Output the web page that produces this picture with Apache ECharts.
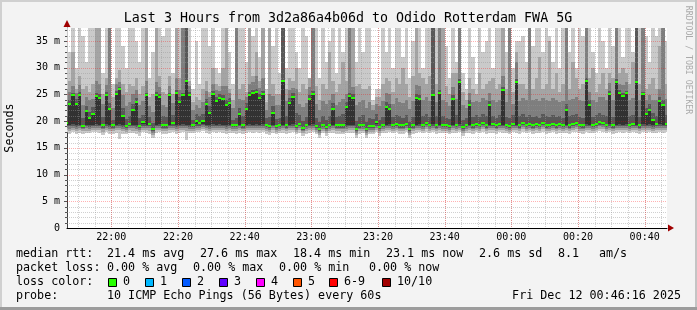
<!DOCTYPE html>
<html><head><meta charset="utf-8">
<script src="https://cdn.jsdelivr.net/npm/echarts@6/dist/echarts.min.js"></script>
<style>html,body{margin:0;padding:0;background:#f3f3f3}#c{width:697px;height:310px}</style>
</head><body><div id="c"></div><script>
// time in minutes after 21:00 (Dec 11); column i covers [46+i, 47+i]
const xStart = 46.7, xEnd = 226.7, colStart = 46;
const xLabelValues = [60, 80, 100, 120, 140, 160, 180, 200, 220];
const xLabels = ['22:00', '22:20', '22:40', '23:00', '23:20', '23:40', '00:00', '00:20', '00:40'];
const xMinorGrid = [50,55,60,65,70,75,80,85,90,95,100,105,110,115,120,125,130,135,140,145,150,155,160,165,170,175,180,185,190,195,200,205,210,215,220,225];
const xMajorGrid = [60, 80, 100, 120, 140, 160, 180, 200, 220];
const yMax = 37.43;
const yMajor = [5, 10, 15, 20, 25, 30, 35];
const yMinor = [1,2,3,4,6,7,8,9,11,12,13,14,16,17,18,19,21,22,23,24,26,27,28,29,31,32,33,34,36,37];

const median = [19.7,23.2,24.9,23.3,24.9,19.1,21.9,20.6,21.3,24.7, 24.4,19.2,24.9,22.3,19.2,25.1,26.0,21.0,19.1,19.5, 22.1,23.5,19.1,19.8,24.9,19.5,18.5,24.9,24.6,19.2, 19.2,24.8,19.6,25.2,23.6,24.9,27.5,24.9,19.3,20.0, 19.6,20.0,23.3,21.5,25.1,23.8,24.4,24.1,23.0,23.4, 19.3,19.3,21.3,19.3,22.3,24.9,25.2,25.5,24.4,25.1, 19.3,19.1,21.6,19.1,19.3,27.5,19.2,23.4,24.6,19.1, 19.5,18.8,19.3,24.1,25.1,19.1,18.5,19.3,18.9,19.3, 22.3,19.2,19.2,19.2,22.6,24.7,24.4,18.5,19.2,19.3, 18.5,19.1,19.1,19.9,18.9,19.3,22.6,22.3,19.3,19.5, 19.2,19.2,19.5,18.5,19.2,24.4,24.1,19.3,19.7,19.3, 24.9,19.2,25.2,19.3,19.3,19.1,24.1,19.3,27.4,18.9, 19.3,23.0,19.2,19.5,19.3,19.6,19.2,23.0,19.4,19.2, 19.5,25.8,19.3,19.1,19.5,27.4,19.2,19.6,19.3,19.5, 19.2,19.4,19.3,19.6,19.2,19.3,19.5,19.2,19.4,19.3, 22.1,19.2,19.5,19.6,19.3,19.2,27.5,23.1,19.3,19.5, 19.8,19.6,19.3,25.0,19.2,27.4,25.2,24.7,25.2,19.3, 19.5,27.4,19.2,25.0,21.3,22.1,20.3,19.4,23.8,23.0, 19.5];
const p1 = [17.9,17.6,18.0,17.5,17.8,17.6,17.7,17.8,17.9,18.0, 17.8,17.4,18.0,17.6,17.6,17.8,16.6,17.6,17.5,17.8, 17.7,17.6,17.3,18.0,17.7,17.6,16.9,17.8,18.0,17.6, 17.5,17.8,17.9,17.6,17.8,18.0,16.5,17.7,17.7,17.9, 18.0,18.1,17.8,17.6,17.9,17.8,18.0,17.7,17.6,17.8, 17.7,17.5,17.8,17.6,17.8,17.9,17.8,17.9,17.8,17.9, 17.6,17.4,17.8,17.5,17.7,17.8,17.6,17.8,17.9,17.5, 17.8,17.2,17.6,17.8,17.9,17.5,16.9,17.7,17.3,17.7, 17.8,17.6,17.6,17.5,17.7,17.8,17.8,16.9,17.6,17.7, 16.9,17.5,17.5,17.9,17.3,17.7,17.8,17.9,17.7,17.9, 17.6,17.6,17.9,16.9,17.6,17.8,17.9,17.7,18.0,17.7, 17.9,17.6,17.8,17.7,17.7,17.5,17.8,17.7,17.9,17.3, 17.7,17.8,17.6,17.9,17.7,18.0,17.6,17.8,17.8,17.6, 17.9,17.8,17.7,17.5,17.9,17.8,17.6,18.0,17.7,17.9, 17.6,17.8,17.7,18.0,17.6,17.7,17.9,17.6,17.8,17.7, 17.8,17.6,17.9,18.0,17.7,17.6,17.9,17.8,17.7,17.9, 18.1,18.0,17.7,17.9,17.6,17.8,17.9,17.8,17.9,17.7, 17.9,17.8,17.6,17.9,17.8,17.9,17.7,17.8,17.9,17.8, 17.9];
const p2 = [18.3,18.2,18.4,18.1,18.3,18.1,18.2,18.2,18.3,18.4, 18.3,18.0,18.4,18.2,18.1,18.3,18.4,18.1,17.9,18.3, 18.2,18.2,17.9,18.4,18.3,18.2,17.4,18.3,18.4,18.1, 18.1,18.3,18.4,18.2,18.3,18.4,18.2,18.2,18.2,18.4, 18.4,18.5,18.3,18.2,18.4,18.3,18.4,18.3,18.2,18.3, 18.2,18.1,18.3,18.1,18.3,18.4,18.3,18.4,18.3,18.4, 18.2,18.0,18.3,18.0,18.2,18.3,18.1,18.3,18.4,18.0, 18.3,17.7,18.2,18.3,18.4,18.0,17.4,18.2,17.8,18.2, 18.3,18.1,18.1,18.0,18.2,18.3,18.3,17.4,18.1,18.2, 17.4,18.0,18.0,18.4,17.8,18.2,18.3,18.4,18.2,18.4, 18.1,18.1,18.4,17.4,18.1,18.3,18.4,18.2,18.5,18.2, 18.4,18.1,18.3,18.2,18.2,18.0,18.3,18.2,18.4,17.8, 18.2,18.3,18.1,18.4,18.2,18.5,18.1,18.3,18.3,18.1, 18.4,18.3,18.2,18.0,18.4,18.3,18.1,18.5,18.2,18.4, 18.1,18.3,18.2,18.5,18.1,18.2,18.4,18.1,18.3,18.2, 18.3,18.1,18.4,18.5,18.2,18.1,18.4,18.3,18.2,18.4, 18.6,18.5,18.2,18.4,18.1,18.3,18.4,18.3,18.4,18.2, 18.4,18.3,18.1,18.4,18.3,18.4,18.2,18.3,18.4,18.3, 18.4];
const p3 = [18.7,18.6,18.8,18.6,18.7,18.5,18.7,18.6,18.7,18.8, 18.7,18.5,18.8,18.6,18.5,18.7,18.8,18.6,18.4,18.7, 18.7,18.6,18.4,18.8,18.7,18.7,17.8,18.7,18.8,18.5, 18.5,18.7,18.8,18.6,18.7,18.8,18.7,18.6,18.6,18.8, 18.8,18.9,18.7,18.6,18.8,18.7,18.8,18.7,18.6,18.7, 18.6,18.6,18.7,18.5,18.7,18.8,18.7,18.8,18.7,18.8, 18.6,18.4,18.7,18.4,18.6,18.7,18.5,18.7,18.8,18.4, 18.7,18.1,18.6,18.7,18.8,18.4,17.8,18.6,18.2,18.6, 18.7,18.5,18.5,18.5,18.6,18.7,18.7,17.8,18.5,18.6, 17.8,18.4,18.4,18.8,18.2,18.6,18.7,18.8,18.6,18.8, 18.5,18.5,18.8,17.8,18.5,18.7,18.8,18.6,18.9,18.6, 18.8,18.5,18.7,18.6,18.6,18.4,18.7,18.6,18.8,18.2, 18.6,18.7,18.5,18.8,18.6,18.9,18.5,18.7,18.7,18.5, 18.8,18.7,18.6,18.4,18.8,18.7,18.5,18.9,18.6,18.8, 18.5,18.7,18.6,18.9,18.5,18.6,18.8,18.5,18.7,18.6, 18.7,18.5,18.8,18.9,18.6,18.5,18.8,18.7,18.6,18.8, 19.0,18.9,18.6,18.8,18.5,18.7,18.8,18.7,18.8,18.6, 18.8,18.7,18.5,18.8,18.7,18.8,18.6,18.7,18.8,18.7, 18.8];
const p4 = [19.0,19.0,19.1,18.9,19.0,18.8,19.0,18.9,19.0,19.1, 19.0,18.8,19.1,18.9,18.8,19.0,19.1,18.9,18.7,19.0, 19.0,18.9,18.7,19.1,19.0,19.0,18.1,19.0,19.1,18.8, 18.8,19.0,19.1,18.9,19.0,19.1,19.0,18.9,18.9,19.1, 19.1,19.2,19.0,18.9,19.1,19.0,19.1,19.0,18.9,19.0, 18.9,18.9,19.0,18.8,19.0,19.1,19.0,19.1,19.0,19.1, 18.9,18.7,19.0,18.7,18.9,19.0,18.8,19.0,19.1,18.7, 19.0,18.4,18.9,19.0,19.1,18.7,18.1,18.9,18.5,18.9, 19.0,18.8,18.8,18.8,18.9,19.0,19.0,18.1,18.8,18.9, 18.1,18.7,18.7,19.1,18.5,18.9,19.0,19.1,18.9,19.1, 18.8,18.8,19.1,18.1,18.8,19.0,19.1,18.9,19.2,18.9, 19.1,18.8,19.0,18.9,18.9,18.7,19.0,18.9,19.1,18.5, 18.9,19.0,18.8,19.1,18.9,19.2,18.8,19.0,19.0,18.8, 19.1,19.0,18.9,18.7,19.1,19.0,18.8,19.2,18.9,19.1, 18.8,19.0,18.9,19.2,18.8,18.9,19.1,18.8,19.0,18.9, 19.0,18.8,19.1,19.2,18.9,18.8,19.1,19.0,18.9,19.1, 19.3,19.2,18.9,19.1,18.8,19.0,19.1,19.0,19.1,18.9, 19.1,19.0,18.8,19.1,19.0,19.1,18.9,19.0,19.1,19.0, 19.1];
const p5 = [19.3,19.3,19.4,19.2,19.3,19.0,19.3,19.2,19.3,19.4, 19.3,19.1,19.4,19.2,19.1,19.3,19.4,19.2,19.0,19.3, 19.3,19.2,19.0,19.4,19.3,19.3,18.4,19.3,19.4,19.1, 19.1,19.3,19.4,19.2,19.3,19.4,19.3,19.2,19.2,19.4, 19.4,19.5,19.3,19.2,19.4,19.3,19.4,19.3,19.2,19.3, 19.2,19.2,19.3,19.1,19.3,19.4,19.3,19.4,19.3,19.4, 19.2,19.0,19.3,19.0,19.2,19.3,19.1,19.3,19.4,19.0, 19.3,18.7,19.2,19.3,19.4,19.0,18.4,19.2,18.8,19.2, 19.3,19.1,19.1,19.1,19.2,19.3,19.3,18.4,19.1,19.2, 18.4,19.0,19.0,19.4,18.8,19.2,19.3,19.4,19.2,19.4, 19.1,19.1,19.4,18.4,19.1,19.3,19.4,19.2,19.5,19.2, 19.4,19.1,19.3,19.2,19.2,19.0,19.3,19.2,19.4,18.8, 19.2,19.3,19.1,19.4,19.2,19.5,19.1,19.3,19.3,19.1, 19.4,19.3,19.2,19.0,19.4,19.3,19.1,19.5,19.2,19.4, 19.1,19.3,19.2,19.5,19.1,19.2,19.4,19.1,19.3,19.2, 19.3,19.1,19.4,19.5,19.2,19.1,19.4,19.3,19.2,19.4, 19.6,19.5,19.2,19.4,19.1,19.3,19.4,19.3,19.4,19.2, 19.4,19.3,19.1,19.4,19.3,19.4,19.2,19.3,19.4,19.3, 19.4];
const p7 = [21.0,24.0,25.3,24.2,25.5,20.5,22.8,21.8,22.6,25.2, 25.0,20.8,25.4,23.4,20.3,25.6,26.4,22.5,20.4,21.0, 23.2,24.3,20.6,21.2,25.3,20.8,19.6,25.4,25.1,20.9, 20.7,25.2,21.1,25.8,24.6,25.3,40,25.5,20.2,21.3, 20.9,21.4,24.1,22.8,25.7,24.5,25.0,24.8,24.0,24.3, 20.3,20.6,22.5,20.9,23.4,25.4,25.8,26.1,25.0,25.6, 20.5,20.8,22.8,20.4,20.6,40,21.0,24.3,25.2,21.5, 21.2,20.1,20.8,24.9,25.6,20.6,19.8,21.0,20.2,20.9, 23.4,20.7,20.9,21.3,23.6,25.3,25.0,20.1,20.8,21.1, 19.9,20.6,20.4,21.4,20.3,20.8,23.5,23.3,20.7,21.2, 20.9,20.6,21.1,19.8,20.7,25.1,24.9,21.0,21.4,20.8, 40,20.9,25.8,21.0,20.6,20.4,24.9,21.1,27.9,20.2, 20.6,23.9,20.8,21.2,20.7,21.3,20.9,23.8,21.0,20.6, 21.1,26.3,20.8,20.5,21.2,27.9,20.9,21.4,20.7,21.1, 20.8,21.0,20.6,21.3,20.9,20.7,21.2,20.8,21.0,20.6, 23.2,20.9,21.1,21.4,20.8,20.6,28.0,24.0,20.7,21.2, 21.5,21.2,20.9,25.6,20.8,27.9,25.8,25.3,25.7,20.9, 21.2,40,20.8,25.5,22.4,23.2,21.6,21.0,24.6,23.9, 21.1];
const p8 = [23.5,25.4,26.5,25.2,26.8,23.0,24.6,24.0,24.2,27.5, 27.0,23.2,26.8,40,22.5,26.9,27.4,24.8,22.9,23.6, 25.0,25.8,23.1,23.8,27.5,22.8,21.8,27.4,26.3,23.0, 22.6,26.5,23.4,28.0,25.8,40,40,26.6,22.0,23.0, 22.4,23.5,25.6,24.5,27.0,25.9,25.7,26.6,26.5,25.3, 22.4,40,24.1,24.0,24.6,27.0,27.3,28.4,26.2,28.0, 22.0,25.0,24.7,23.1,23.0,40,23.8,25.8,26.2,26.0, 23.3,22.6,23.4,26.3,40,23.2,22.0,23.8,23.2,23.9, 25.0,23.0,23.5,24.2,25.0,40,26.4,23.0,23.5,24.0, 22.5,23.5,22.0,23.2,22.8,23.8,25.2,25.0,23.3,24.3, 23.5,23.4,24.0,22.3,23.8,26.8,26.5,24.0,24.5,23.8, 40,23.6,40,24.0,23.5,22.8,26.4,24.2,40,23.0, 22.5,25.3,23.6,23.8,23.6,24.4,24.0,25.2,24.0,23.6, 24.0,28.4,23.5,40,23.2,31.0,23.8,24.4,23.9,40, 24.0,24.2,23.8,24.3,24.0,23.7,24.4,24.0,23.5,23.8, 40,24.0,24.2,24.6,24.0,23.8,40,25.4,24.0,23.6, 24.6,24.5,24.0,27.2,24.0,40,27.0,26.8,27.3,24.0, 24.3,40,24.0,40,24.0,24.8,24.0,24.0,26.0,40, 24.2];
const p9 = [26.0,27.5,33.0,26.0,28.5,26.0,26.5,25.5,27.0,40, 40,25.0,28.0,40,24.5,28.0,29.5,27.0,25.5,27.0, 26.5,28.0,25.0,26.5,38.0,24.5,25.0,40,28.5,25.5, 25.0,28.5,25.0,40,28.0,40,40,27.5,23.5,24.5, 24.0,26.0,27.5,25.5,30.0,27.0,26.5,30.0,40,26.0, 24.0,40,26.0,27.0,25.5,40,28.5,33.0,27.5,40, 23.5,40,27.0,25.0,25.0,40,26.0,28.0,27.5,30.0, 25.5,27.0,26.0,28.0,40,26.5,24.0,27.0,26.0,33.0, 27.5,25.5,27.0,31.0,27.5,40,40,26.5,27.0,26.0, 26.0,26.5,23.0,24.5,24.5,27.0,28.0,27.5,25.5,28.0, 27.0,30.0,27.0,24.5,28.5,40,29.0,28.0,27.0,28.5, 40,27.0,40,40,26.5,25.0,29.0,29.0,40,25.5, 24.0,28.0,26.0,25.0,29.0,26.0,27.0,27.5,28.0,26.0, 27.0,40,26.0,40,25.5,33.0,27.0,27.0,26.0,40, 26.0,28.0,32.0,26.0,27.0,35.0,26.0,29.0,25.5,27.0, 40,26.0,31.0,28.0,26.0,27.0,40,28.0,30.0,25.5, 27.0,29.0,26.0,29.0,28.0,40,29.0,30.0,29.0,27.0, 31.0,40,27.0,40,26.0,27.0,28.0,26.0,34.0,40, 27.0];
const p10 = [40,33,40,30,40,36,31,40,40,40, 40,29,40,40,27,40,40,34,30,40, 40,35,31,40,40,28,33,40,38,36, 40,40,29,40,40,40,40,40,26,35, 27,40,40,34,40,30,29,40,40,33, 27,40,40,40,31,40,36,40,32,40, 26,40,34,40,29,40,30,40,40,33, 30,40,36,28,40,40,28,40,31,35, 40,29,40,33,40,40,40,31,40,33, 40,40,24,26,26,40,33,40,30,40, 40,32,40,28,35,40,40,30,40,40, 40,40,40,40,34,28,40,31,40,29, 26,40,32,27,40,33,35,40,30,40, 40,40,33,40,30,35,35,36,31,40, 34,40,40,33,40,36,31,40,30,40, 40,33,40,30,40,36,40,40,33,29, 40,35,30,40,34,40,40,32,40,40, 33,40,40,40,36,31,40,36,40,40, 35];
const lossColors = ['#26ff00', '#00b8ff', '#0059ff', '#5e00ff', '#ff00ff', '#ff5500', '#ff0000', '#a10000'];
const lossLabels = ['0', '1', '2', '3', '4', '5', '6-9', '10/10'];

const MONO = '"DejaVu Sans Mono", monospace';
const cols = median.map((m, i) => [i, p1[i], p2[i], p3[i], p4[i], p5[i], m, p7[i], p8[i], p9[i], p10[i]]);
const bandDefs = [[1, 10, '#cacaca'], [2, 9, '#a4a4a4'], [3, 8, '#7e7e7e'], [4, 7, '#585858'], [5, 6, '#323232']];

function clipR(r, cs) { return echarts.graphic.clipRectByRect(r, { x: cs.x, y: cs.y, width: cs.width, height: cs.height }); }

function renderSmoke(params, api) {
  const i = api.value(0);
  const cs = params.coordSys;
  const xa = Math.round(api.coord([colStart + i, 0])[0]);
  const xb = Math.round(api.coord([colStart + i + 1, 0])[0]);
  const children = [];
  for (const [lo, hi, color] of bandDefs) {
    const yt = Math.round(api.coord([0, api.value(hi)])[1]);
    const yb = Math.round(api.coord([0, api.value(lo)])[1]);
    const s = clipR({ x: xa, y: yt, width: xb - xa, height: Math.max(1, yb - yt) }, cs);
    if (s) children.push({ type: 'rect', shape: s, style: { fill: color } });
  }
  return { type: 'group', children };
}
function renderMedian(params, api) {
  const i = api.value(0);
  const cs = params.coordSys;
  const xa = Math.round(api.coord([colStart + i, 0])[0]);
  const xb = Math.round(api.coord([colStart + i + 1, 0])[0]);
  const ym = Math.round(api.coord([0, api.value(6)])[1]);
  const s = clipR({ x: xa, y: ym - 1, width: xb - xa, height: 2 }, cs);
  return s ? { type: 'rect', shape: s, style: { fill: lossColors[0] } } : null;
}
function renderGrid(params, api) {
  const cs = params.coordSys;
  const ch = [];
  const vline = (v, color) => { const x = Math.round(api.coord([v, 0])[0]) + 0.5; ch.push({ type: 'line', shape: { x1: x, y1: cs.y, x2: x, y2: cs.y + cs.height }, style: { stroke: color, lineWidth: 1, lineDash: [1, 1] } }); };
  const hline = (v, color) => { const y = Math.round(api.coord([xStart, v])[1]) + 0.5; ch.push({ type: 'line', shape: { x1: cs.x, y1: y, x2: cs.x + cs.width, y2: y }, style: { stroke: color, lineWidth: 1, lineDash: [1, 1] } }); };
  const tick = (v, len) => { const y = Math.round(api.coord([xStart, v])[1]) + 0.5; ch.push({ type: 'line', shape: { x1: cs.x - len, y1: y, x2: cs.x, y2: y }, style: { stroke: '#555', lineWidth: 1 } }); };
  xMinorGrid.forEach(v => vline(v, 'rgba(150,150,150,0.45)'));
  yMinor.forEach(v => { hline(v, 'rgba(150,150,150,0.45)'); tick(v, 2); });
  xMajorGrid.forEach(v => vline(v, 'rgba(255,0,0,0.3)'));
  yMajor.forEach(v => { hline(v, 'rgba(255,0,0,0.3)'); tick(v, 3); });
  return { type: 'group', children: ch };
}

const chart = echarts.init(document.getElementById('c'), null, { renderer: 'canvas' });
const gtext = (x, y, text, extra) => ({ type: 'text', x, y, style: Object.assign({ text, font: '11.7px ' + MONO, fill: '#000', verticalAlign: 'middle' }, extra || {}) });
const legendRows = [
  [16, 254, 'median rtt:'], [107, 254, '21.4 ms avg'], [200, 254, '27.6 ms max'], [293, 254, '18.4 ms min'], [386, 254, '23.1 ms now'], [479, 254, '2.6 ms sd'], [558, 254, '8.1'], [599, 254, 'am/s'],
  [16, 268, 'packet loss:'], [107, 268, '0.00 % avg'], [193, 268, '0.00 % max'], [279, 268, '0.00 % min'], [369, 268, '0.00 % now'],
  [16, 282, 'loss color:'],
  [16, 296, 'probe:'], [107, 296, '10 ICMP Echo Pings (56 Bytes) every 60s']
];
const boxX = [108, 145, 182, 219, 256, 293, 329, 382];
const graphics = [];
legendRows.forEach(r => graphics.push(gtext(r[0], r[1], r[2])));
graphics.push(gtext(681, 296, 'Fri Dec 12 00:46:16 2025', { align: 'right' }));
boxX.forEach((bx, k) => {
  graphics.push({ type: 'rect', shape: { x: bx + 0.5, y: 278.5, width: 8, height: 8 }, style: { fill: lossColors[k], stroke: '#000', lineWidth: 1 } });
  graphics.push(gtext(bx + 15, 282, lossLabels[k]));
});
graphics.push(gtext(348, 19, 'Last 3 Hours from 3d2a86a4b06d to Odido Rotterdam FWA 5G', { align: 'center', font: '13.3px ' + MONO }));
graphics.push({ type: 'text', x: 10, y: 128, rotation: Math.PI / 2, style: { text: 'Seconds', font: '11.7px ' + MONO, fill: '#000', align: 'center', verticalAlign: 'middle' } });
graphics.push({ type: 'text', x: 688, y: 60, rotation: -Math.PI / 2, style: { text: 'RRDTOOL / TOBI OETIKER', font: '8.2px ' + MONO, fill: '#aaaaaa', align: 'center', verticalAlign: 'middle' } });
graphics.push({ type: 'polygon', shape: { points: [[63.5, 27], [70.5, 27], [67, 20]] }, style: { fill: '#a00000' }, z: 100 });
graphics.push({ type: 'polygon', shape: { points: [[668, 224.5], [668, 231.5], [674, 228]] }, style: { fill: '#a00000' }, z: 100 });
graphics.push({ type: 'rect', shape: { x: 0, y: 0, width: 697, height: 2 }, style: { fill: '#d0d0d0' }, z: 100 });
graphics.push({ type: 'rect', shape: { x: 0, y: 0, width: 2, height: 310 }, style: { fill: '#d0d0d0' }, z: 100 });
graphics.push({ type: 'rect', shape: { x: 695, y: 0, width: 2, height: 310 }, style: { fill: '#c4c4c4' }, z: 100 });
graphics.push({ type: 'rect', shape: { x: 0, y: 307, width: 697, height: 3 }, style: { fill: '#9c9c9c' }, z: 100 });

chart.setOption({
  animation: false,
  backgroundColor: '#f3f3f3',
  grid: { left: 67, top: 28, width: 600, height: 200, show: true, backgroundColor: '#ffffff', borderWidth: 0, containLabel: false },
  xAxis: {
    type: 'value', min: xStart, max: xEnd,
    axisLine: { show: true, lineStyle: { color: '#000', width: 1 } },
    axisTick: { show: false },
    splitLine: { show: false },
    axisLabel: { customValues: xLabelValues, formatter: v => xLabels[xLabelValues.indexOf(v)] || '', color: '#000', fontFamily: MONO, fontSize: 10, margin: 4 }
  },
  yAxis: {
    type: 'value', min: 0, max: yMax, interval: 5,
    axisLine: { show: true, lineStyle: { color: '#404040', width: 1 } },
    axisTick: { show: false },
    splitLine: { show: false },
    axisLabel: { formatter: v => (v % 5 === 0 ? (v === 0 ? '0' : v + ' m') : ''), color: '#000', fontFamily: MONO, fontSize: 10, margin: 7 }
  },
  series: [
    { type: 'custom', name: 'smoke', data: cols, renderItem: renderSmoke, z: 2, silent: true },
    { type: 'custom', name: 'grid', data: [[0]], renderItem: renderGrid, z: 3, silent: true },
    { type: 'custom', name: 'median', data: cols, renderItem: renderMedian, z: 4, silent: true }
  ],
  graphic: graphics
});
</script></body></html>
